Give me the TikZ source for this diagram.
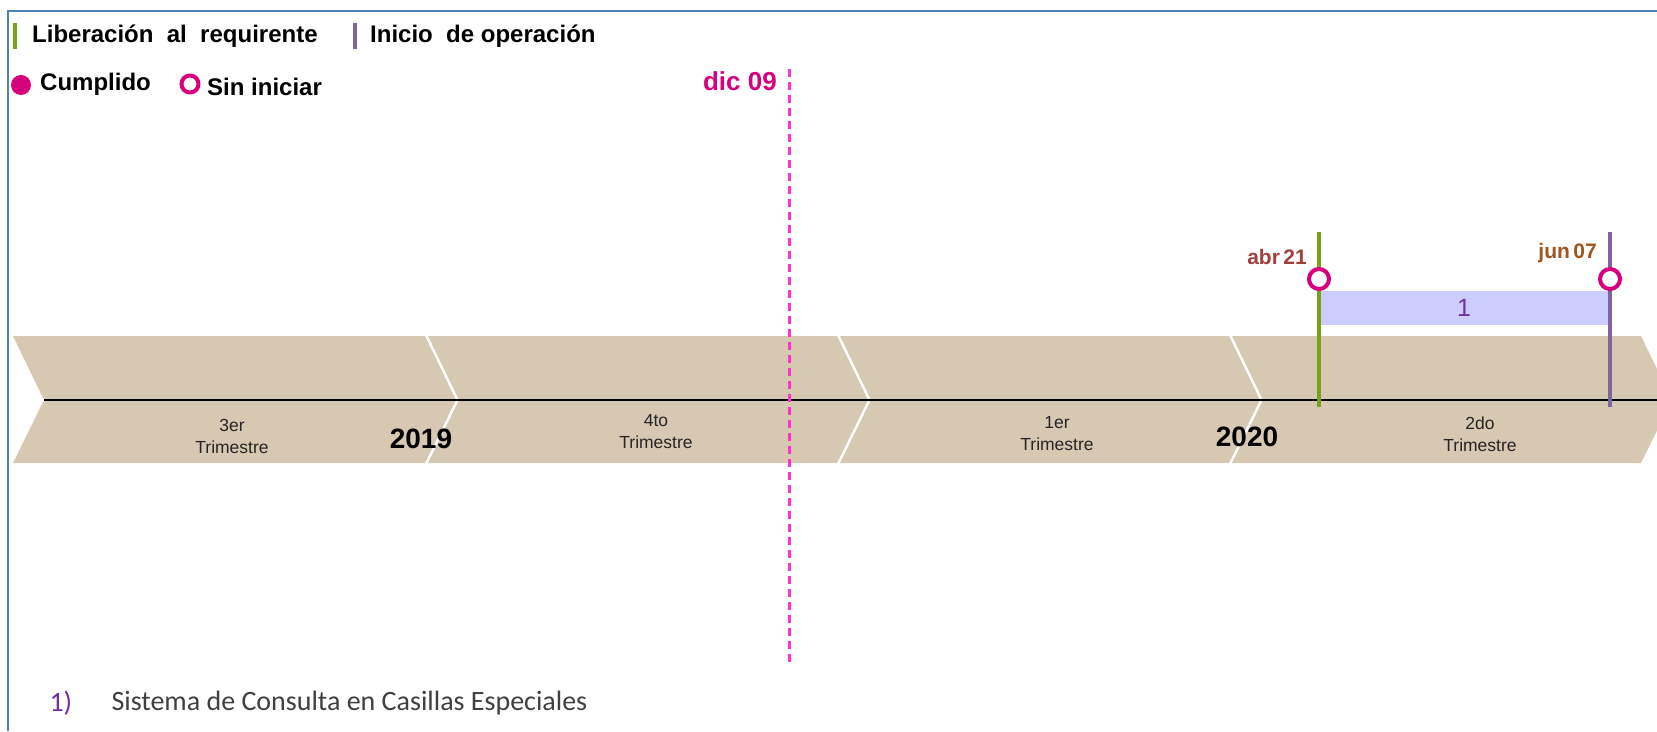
\documentclass[tikz,border=0pt]{standalone}
\usepackage{fontspec}
\setmainfont{Liberation Sans}
\newfontfamily\calibri{Carlito}
\usetikzlibrary{positioning}

\definecolor{chevtan}{RGB}{215,200,178}
\definecolor{frameblue}{RGB}{79,129,189}
\definecolor{libgreen}{RGB}{119,163,26}
\definecolor{opviolet}{RGB}{128,100,162}
\definecolor{hitmag}{RGB}{214,0,126}
\definecolor{cutpink}{RGB}{255,51,204}
\definecolor{spanblue}{RGB}{204,204,255}
\definecolor{numpurple}{RGB}{112,48,160}
\definecolor{abrred}{RGB}{160,64,60}
\definecolor{junbrown}{RGB}{160,86,28}
\definecolor{notegray}{RGB}{64,64,64}

\begin{document}
\begin{tikzpicture}[x=1pt,y=-1pt,
  legend/.style={font=\fontsize{24}{28}\selectfont\bfseries, anchor=west, inner sep=0pt},
  quarter/.style={font=\fontsize{17.5}{22}\selectfont, align=center, text=black!85},
  year/.style={font=\fontsize{28}{30}\selectfont\bfseries},
  datelbl/.style={font=\fontsize{21}{24}\selectfont\bfseries, anchor=east, inner sep=0pt},
  openmark/.style={circle, draw=hitmag, line width=4pt, fill=white, minimum size=20pt, inner sep=0pt},
  note/.style={font=\calibri\fontsize{28}{32}\selectfont, anchor=west}]
\useasboundingbox (0,0) rectangle (1657,731);
\clip (0,0) rectangle (1657,731);
\fill[white] (0,0) rectangle (1657,731);
% frame
\draw[frameblue, line width=2pt] (8,731) -- (8,11) -- (1657,11);

% legend
\draw[libgreen, line width=4pt] (15,23) -- (15,49);
\node[legend] (liblgd) at (32,36) {Liberación\ \ al\ \ requirente};
\draw[opviolet, line width=4pt] (355,23) -- (355,49);
\node[legend] (oplgd) at (370,36) {Inicio\ \ de operación};
\fill[hitmag] (21,85) circle (10);
\node[legend] (donelgd) at (40,84) {Cumplido};
\draw[hitmag, line width=4pt] (190,84) circle (8.5);
\node[legend] (openlgd) at (207,87) {Sin iniciar};

% chevrons
\foreach \l/\r in {13/425, 428/837, 840/1229, 1232/1641}
  \fill[chevtan] (\l,336) -- (\r,336) -- (\r+31,400) -- (\r,463) -- (\l,463) -- (\l+31,400) -- cycle;
\draw[line width=2.6pt] (44,400) -- (1657,400);

% quarters
\node[quarter] (q3) at (232,436) {3er\\Trimestre};
\node[quarter] (q4) at (656,432) {4to\\Trimestre};
\node[quarter] (q1) at (1057,434) {1er\\Trimestre};
\node[quarter] (q2) at (1480,434) {2do\\Trimestre};
\node[year] (y19) at (421,439) {2019};
\node[year] (y20) at (1247,437) {2020};

% cut date
\coordinate (cut top) at (789,69);
\coordinate (cut bot) at (789,666);
\draw[cutpink, line width=3pt, dash pattern=on 8pt off 5pt] (cut top) -- (cut bot);
\node[datelbl, text=hitmag, font=\fontsize{26}{30}\selectfont\bfseries] (cutlbl) at (777,81) {dic 09};

% project 1
\fill[spanblue] (1319,291) rectangle (1610,325);
\node[font=\fontsize{25}{30}\selectfont, text=numpurple] (p1) at (1464,308) {1};
\coordinate (lib top) at (1319,232);
\coordinate (lib bot) at (1319,407);
\coordinate (op top) at (1610,232);
\coordinate (op bot) at (1610,407);
\draw[libgreen, line width=4pt] (lib top) -- (lib bot);
\draw[opviolet, line width=4pt] (op top) -- (op bot);
\node[openmark] (libmark) at (1319,279) {};
\node[openmark] (opmark) at (1610,279) {};
\node[datelbl, text=abrred] (abr) at (1307,257) {abr\,21};
\node[datelbl, text=junbrown] (jun) at (1597,253) {jun\,07};

% note
\node[note, text=numpurple] (n1) at (46,703) {1)};
\node[note, text=notegray] (n1txt) at (108,703) {Sistema de Consulta en Casillas Especiales};
\end{tikzpicture}
\end{document}
